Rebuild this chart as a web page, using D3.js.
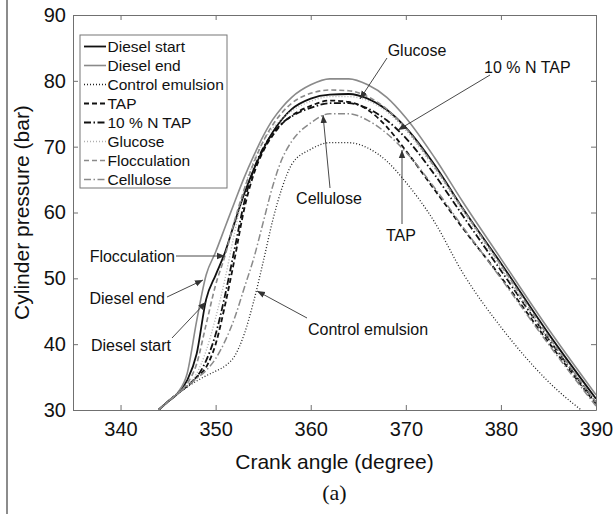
<!DOCTYPE html>
<html>
<head>
<meta charset="utf-8">
<script src="https://cdn.jsdelivr.net/npm/d3@7"></script>
<style>
  html, body { margin: 0; padding: 0; background: #fff; }
  svg { display: block; }
  text { font-family: "Liberation Sans", Arial, Helvetica, sans-serif; fill: #111; }
</style>
</head>
<body>
<svg id="chart" width="614" height="517"></svg>
<script>
// Crank angle grid (degrees) shared by all pressure traces
const crankAngle = [344, 345, 346, 347, 348, 349, 350, 351, 352, 353, 354, 355, 356,
                    357, 358, 360, 362, 364, 366, 368, 370, 373, 376, 380, 385, 390];

// Cylinder pressure (bar) for each fuel
const dieselStart     = [30, 31.3, 32.5, 34.5, 38.5, 46.8, 50.5, 54.0, 58.5, 62.8, 66.5, 69.6, 72.2,
                         74.2, 75.7, 77.3, 77.9, 78.0, 77.3, 75.6, 72.9, 67.3, 60.6, 52.3, 41.6, 31.7];
const dieselEnd       = [30, 31.3, 32.6, 35.5, 43.5, 50.5, 54.0, 57.8, 61.6, 65.3, 68.6, 71.6, 74.1,
                         76.0, 77.5, 79.4, 80.3, 80.3, 79.4, 77.5, 74.4, 68.4, 61.6, 53.0, 42.3, 32.3];
const controlEmulsion = [30, 31.3, 32.5, 33.5, 34.4, 35.2, 35.9, 36.7, 38.2, 41.5, 46.5, 52.5, 58.8,
                         63.8, 67.3, 69.6, 70.6, 70.6, 69.8, 67.8, 64.6, 58.6, 50.8, 42.6, 34.3, 28.3];
const tap             = [30, 31.3, 32.5, 33.6, 35.0, 36.5, 40.0, 46.0, 53.0, 60.5, 65.8, 69.3, 71.7,
                         73.5, 74.7, 76.2, 77.0, 76.8, 75.6, 73.0, 69.4, 63.5, 57.6, 50.2, 40.3, 30.9];
const tap10N          = [30, 31.3, 32.5, 33.6, 35.0, 37.5, 41.5, 47.5, 54.5, 61.5, 66.5, 69.8, 72.0,
                         73.6, 74.6, 75.9, 76.6, 76.6, 75.8, 74.0, 71.3, 65.8, 59.5, 51.2, 40.8, 31.1];
const glucose         = [30, 31.3, 32.5, 33.8, 35.5, 39.0, 44.0, 50.0, 57.0, 63.5, 67.8, 70.8, 72.8,
                         74.3, 75.4, 76.9, 77.6, 77.6, 77.0, 75.3, 72.5, 66.7, 60.2, 51.6, 40.8, 31.0];
const flocculation    = [30, 31.3, 32.5, 34.0, 37.0, 43.0, 49.0, 53.5, 58.8, 63.5, 67.5, 70.8, 73.3,
                         75.2, 76.6, 78.1, 78.6, 78.5, 77.6, 75.7, 72.8, 67.0, 60.5, 52.0, 41.2, 31.2];
const cellulose       = [30, 31.3, 32.5, 33.6, 34.8, 36.0, 37.8, 40.5, 44.0, 48.5, 53.0, 58.5, 64.0,
                         68.2, 70.8, 73.6, 75.0, 75.0, 74.0, 72.0, 69.2, 63.8, 57.8, 50.0, 40.0, 30.6];

const seriesNames = ["Diesel start", "Diesel end", "Control emulsion", "TAP",
                     "10 % N TAP", "Glucose", "Flocculation", "Cellulose"];
const seriesValues = [dieselStart, dieselEnd, controlEmulsion, tap,
                      tap10N, glucose, flocculation, cellulose];

const xTicks = [340, 350, 360, 370, 380, 390];
const yTicks = [30, 40, 50, 60, 70, 80, 90];

// Line appearance per series
const styles = [
  { color: "#111", width: 1.8, dash: null },
  { color: "#8a8a8a", width: 1.6, dash: null },
  { color: "#222", width: 1.3, dash: "1,2" },
  { color: "#111", width: 1.8, dash: "5,3" },
  { color: "#111", width: 1.8, dash: "7,2.5,1.5,2.5" },
  { color: "#b0b0b0", width: 1.4, dash: "1,2" },
  { color: "#8a8a8a", width: 1.6, dash: "5,3" },
  { color: "#8a8a8a", width: 1.5, dash: "7,2.5,1.5,2.5" }
];

const svg = d3.select("#chart");
const x = d3.scaleLinear().domain([335, 390]).range([73, 596]);
const y = d3.scaleLinear().domain([30, 90]).range([410, 15]);

// Page rule at the left edge
svg.append("line").attr("x1", 7).attr("x2", 7).attr("y1", 0).attr("y2", 514)
  .attr("stroke", "#666").attr("stroke-width", 1.5);

const defs = svg.append("defs");
defs.append("clipPath").attr("id", "plot-clip").append("rect")
  .attr("x", x(335)).attr("y", y(90)).attr("width", x(390) - x(335)).attr("height", y(30) - y(90));
defs.append("marker").attr("id", "arrow").attr("viewBox", "0 0 10 10")
  .attr("refX", 10).attr("refY", 5).attr("markerWidth", 8).attr("markerHeight", 8)
  .attr("markerUnits", "userSpaceOnUse").attr("orient", "auto")
  .append("path").attr("d", "M0,1 L10,5 L0,9 Z").attr("fill", "#333");

// Axes with inward ticks on all four sides
const axisColor = "#707070";
const tickLen = 5;
const axisBottomG = svg.append("g").attr("transform", `translate(0,${y(30)})`)
  .call(d3.axisBottom(x).tickValues(xTicks).tickSizeInner(-tickLen).tickSizeOuter(0).tickPadding(12));
const axisTopG = svg.append("g").attr("transform", `translate(0,${y(90)})`)
  .call(d3.axisTop(x).tickValues(xTicks).tickSizeInner(-tickLen).tickSizeOuter(0).tickFormat(""));
const axisLeftG = svg.append("g").attr("transform", `translate(${x(335)},0)`)
  .call(d3.axisLeft(y).tickValues(yTicks).tickSizeInner(-tickLen).tickSizeOuter(0).tickPadding(7));
const axisRightG = svg.append("g").attr("transform", `translate(${x(390)},0)`)
  .call(d3.axisRight(y).tickValues(yTicks).tickSizeInner(-tickLen).tickSizeOuter(0).tickFormat(""));

[axisBottomG, axisTopG, axisLeftG, axisRightG].forEach(g => {
  g.select(".domain").attr("stroke", axisColor);
  g.selectAll(".tick line").attr("stroke", axisColor);
});
[axisBottomG, axisLeftG].forEach(g => {
  g.selectAll(".tick text").attr("font-size", 20).attr("fill", "#111")
    .attr("font-family", "Liberation Sans, Arial, sans-serif");
});

// Pressure traces
const line = d3.line().x((d, i) => x(crankAngle[i])).y(d => y(d)).curve(d3.curveMonotoneX);
const traces = svg.append("g").attr("clip-path", "url(#plot-clip)");
seriesValues.forEach((vals, i) => {
  traces.append("path").datum(vals)
    .attr("d", line)
    .attr("fill", "none")
    .attr("stroke", styles[i].color)
    .attr("stroke-width", styles[i].width)
    .attr("stroke-dasharray", styles[i].dash)
    .attr("stroke-linejoin", "round");
});

// Axis titles
svg.append("text").attr("x", (x(335) + x(390)) / 2).attr("y", 469)
  .attr("text-anchor", "middle").attr("font-size", 21).text("Crank angle (degree)");
svg.append("text").attr("transform", `translate(29,${(y(30) + y(90)) / 2}) rotate(-90)`)
  .attr("text-anchor", "middle").attr("font-size", 21).text("Cylinder pressure (bar)");
svg.append("text").attr("x", (x(335) + x(390)) / 2).attr("y", 500)
  .attr("text-anchor", "middle").attr("font-size", 22)
  .style("font-family", "'Liberation Serif', 'Times New Roman', serif").text("(a)");

// Legend
const legend = svg.append("g");
legend.append("rect").attr("x", 80).attr("y", 35).attr("width", 147).attr("height", 153)
  .attr("fill", "#fff").attr("stroke", "#777").attr("stroke-width", 1);
seriesNames.forEach((name, i) => {
  const ly = 46.5 + i * 19;
  legend.append("line").attr("x1", 84).attr("x2", 106).attr("y1", ly).attr("y2", ly)
    .attr("stroke", styles[i].color).attr("stroke-width", styles[i].width)
    .attr("stroke-dasharray", styles[i].dash);
  legend.append("text").attr("x", 107.5).attr("y", ly).attr("dy", "0.35em")
    .attr("font-size", 15.5).text(name);
});

// Callout labels with leader arrows
const callouts = [
  { text: "Glucose",          tx: 417, ty: 50,  anchor: "middle", from: [387, 58],  to: [360, 99] },
  { text: "10 % N TAP",       tx: 484, ty: 67,  anchor: "start",  from: [490, 75],  to: [398, 130] },
  { text: "TAP",              tx: 401, ty: 235, anchor: "middle", from: [402, 224], to: [402, 150] },
  { text: "Cellulose",        tx: 329, ty: 198, anchor: "middle", from: [330, 188], to: [323, 115] },
  { text: "Control emulsion", tx: 308, ty: 329, anchor: "start",  from: [307, 318], to: [257, 291] },
  { text: "Flocculation",     tx: 175, ty: 256, anchor: "end",    from: [176, 256], to: [225, 256] },
  { text: "Diesel end",       tx: 165, ty: 298, anchor: "end",    from: [167, 297], to: [203, 280] },
  { text: "Diesel start",     tx: 171, ty: 345, anchor: "end",    from: [172, 338], to: [206, 302] }
];
const notes = svg.append("g");
callouts.forEach(c => {
  notes.append("line").attr("x1", c.from[0]).attr("y1", c.from[1])
    .attr("x2", c.to[0]).attr("y2", c.to[1])
    .attr("stroke", "#333").attr("stroke-width", 0.9).attr("marker-end", "url(#arrow)");
  notes.append("text").attr("x", c.tx).attr("y", c.ty).attr("dy", "0.35em")
    .attr("text-anchor", c.anchor).attr("font-size", 16).text(c.text);
});
</script>
</body>
</html>
